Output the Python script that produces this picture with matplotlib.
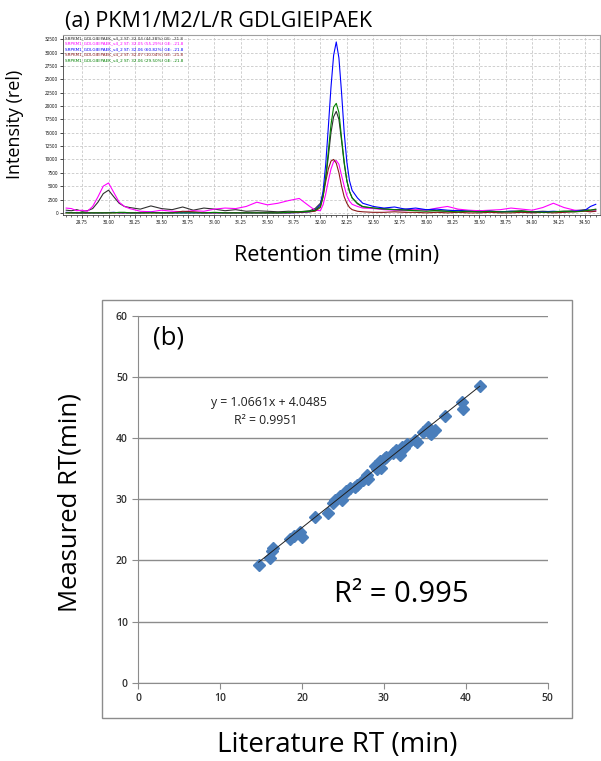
import numpy as np
import matplotlib
matplotlib.use('Agg')
from matplotlib import pyplot as plt
import matplotlib.patches as mpatches
from matplotlib.ticker import MultipleLocator, FormatStrFormatter

# ---- (a) extracted ion chromatograms, intensity vs retention time ----
rt = [29.60, 29.65, 29.70, 29.75, 29.80, 29.85, 29.90, 29.95, 30.00, 30.05,
      30.10, 30.15, 30.20, 30.30, 30.40, 30.50, 30.60, 30.70, 30.80, 30.90,
      31.00, 31.10, 31.20, 31.30, 31.40, 31.50, 31.60, 31.70, 31.80, 31.90,
      31.95, 32.00, 32.025, 32.05, 32.075, 32.10, 32.125, 32.15, 32.175, 32.20,
      32.225, 32.25, 32.275, 32.30, 32.35, 32.40, 32.50, 32.60, 32.70, 32.80,
      32.90, 33.00, 33.10, 33.20, 33.30, 33.40, 33.50, 33.60, 33.70, 33.80,
      33.90, 34.00, 34.10, 34.20, 34.30, 34.40, 34.50, 34.55, 34.60]

trace_black = [500, 400, 600, 300, 400, 800, 2000, 3600, 4250, 3000,
               1800, 1200, 1000, 700, 1300, 800, 600, 1100, 500, 900,
               700, 400, 600, 300, 400, 300, 200, 300, 200, 400,
               800, 1800, 3500, 6500, 10500, 15000, 18000, 19000, 17500, 13500,
               9200, 6000, 4000, 2800, 1700, 1100, 900, 800, 600, 700,
               500, 600, 400, 300, 500, 300, 400, 300, 200, 300,
               400, 200, 300, 200, 300, 400, 600, 500, 700]
trace_magenta = [900, 800, 400, 500, 300, 1200, 3000, 5000, 5600, 3800,
                 2000, 1200, 800, 300, 200, 500, 300, 200, 400, 300,
                 700, 900, 800, 1200, 2000, 1500, 1800, 2300, 2700, 1200,
                 500, 400, 1500, 3500, 6000, 8200, 9600, 9800, 9100, 7000,
                 5000, 3200, 2200, 1600, 1200, 900, 800, 600, 500, 400,
                 600, 500, 900, 1200, 700, 500, 400, 500, 600, 900,
                 700, 500, 1000, 1800, 1000, 500, 400, 300, 400]
trace_blue = [100, 50, 0, 0, 0, 0, 0, 0, 50, 100,
              0, 0, 0, 0, 100, 0, 0, 0, 0, 0,
              0, 0, 0, 0, 0, 0, 0, 0, 50, 200,
              500, 1500, 4000, 9000, 16000, 23500, 29500, 32000, 29000, 22500,
              15000, 9500, 6000, 4200, 2800, 1800, 1200, 900, 1100, 700,
              900, 600, 700, 500, 400, 300, 200, 300, 200, 300,
              200, 100, 200, 300, 200, 300, 500, 1200, 1600]
trace_brown = [0, 0, 0, 0, 0, 0, 0, 0, 0, 0,
               0, 0, 0, 0, 0, 0, 0, 300, 200, 0,
               0, 0, 0, 0, 0, 0, 0, 0, 100, 200,
               300, 1000, 3000, 5800, 8200, 9700, 10000, 9300, 7500, 5000,
               3000, 1800, 1000, 600, 300, 200, 100, 100, 200, 100,
               100, 0, 100, 0, 100, 0, 0, 100, 0, 0,
               100, 0, 100, 0, 100, 200, 300, 200, 300]
trace_green = [0, 0, 0, 0, 0, 0, 0, 0, 0, 0,
               100, 100, 0, 0, 0, 0, 0, 0, 0, 0,
               100, 0, 0, 0, 0, 0, 0, 100, 200, 300,
               500, 1200, 3000, 6500, 11500, 16500, 19800, 20500, 18800, 14000,
               9500, 6000, 4000, 2800, 1800, 1200, 900, 700, 600, 500,
               400, 300, 400, 300, 200, 300, 200, 300, 200, 200,
               300, 200, 100, 200, 300, 200, 400, 500, 600]

trace_names = ['SRPKM1_GDLGIEIPAEK_v4_2 ST: 32.04 (44.38%) GE: -21.8',
               'SRPKM1_GDLGIEIPAEK_v4_2 ST: 32.05 (55.29%) GE: -21.8',
               'SRPKM1_GDLGIEIPAEK_v4_2 ST: 32.06 (60.82%) GE: -21.8',
               'SRPKM1_GDLGIEIPAEK_v4_2 ST: 32.07 (10.04%) GE: -21.8',
               'SRPKM1_GDLGIEIPAEK_v4_2 ST: 32.06 (29.50%) GE: -21.8']
trace_colors = ['#303030', '#ff00ff', '#0000ff', '#8b1a1a', '#008000']
traces = [trace_black, trace_magenta, trace_blue, trace_brown, trace_green]

# ---- (b) measured vs literature retention time ----
lit_rt = [14.7, 16.1, 16.3, 16.5, 18.5, 19.0, 19.7, 20.0, 21.6, 23.2,
          23.8, 24.0, 24.6, 24.9, 25.2, 25.4, 25.8, 26.5, 26.7, 27.5,
          27.9, 28.1, 28.9, 29.2, 29.5, 29.7, 30.1, 30.3, 31.1, 31.5,
          32.0, 32.2, 32.4, 32.8, 33.8, 34.0, 34.8, 35.4, 35.6, 35.8,
          36.2, 37.4, 39.5, 39.6, 41.7]
meas_rt = [19.3, 20.4, 21.5, 22.0, 23.5, 24.0, 24.7, 23.9, 27.1, 27.8,
           29.4, 29.9, 30.6, 29.9, 31.0, 31.3, 31.8, 32.1, 32.4, 33.2,
           34.0, 33.3, 35.5, 35.0, 36.2, 35.1, 36.7, 37.0, 37.6, 38.0,
           37.3, 38.6, 38.4, 39.1, 39.7, 39.4, 41.1, 41.9, 40.8, 40.7,
           41.4, 43.6, 46.0, 44.8, 48.6]
fit_slope = 1.0661
fit_intercept = 4.0485

W, H = 601.0, 761.0
plt.rcParams['font.family'] = ['Open Sans', 'DejaVu Sans']
fig = plt.figure(figsize=(6.01, 7.61), dpi=100)

def box(l, t, r, b):
    return [l / W, 1 - b / H, (r - l) / W, (b - t) / H]

# top panel
ax1 = fig.add_axes(box(63, 35, 600, 215))
for y, c in zip(traces, trace_colors):
    ax1.plot(rt, y, color=c, linewidth=0.8)
ax1.set_xlim(29.57, 34.64)
ax1.set_ylim(-400, 33300)
ax1.xaxis.set_major_locator(MultipleLocator(0.25))
ax1.xaxis.set_minor_locator(MultipleLocator(0.05))
ax1.xaxis.set_major_formatter(FormatStrFormatter('%.2f'))
ax1.yaxis.set_major_locator(MultipleLocator(2500))
ax1.tick_params(labelsize=3.3, length=2, width=0.5, pad=1.5)
ax1.tick_params(which='minor', length=1.2, width=0.4)
ax1.grid(True, color='#c8c8c8', linestyle=(0, (3, 2)), linewidth=0.6)
for s in ['top', 'right']:
    ax1.spines[s].set_color('#a0a0a0')
for s in ['left', 'bottom']:
    ax1.spines[s].set_color('#404040')
    ax1.spines[s].set_linewidth(0.6)
for i, (nm, c) in enumerate(zip(trace_names, trace_colors)):
    ax1.text(0.003, 0.995 - i * 0.031, nm, transform=ax1.transAxes, color=c,
             fontsize=3.0, va='top', ha='left', family='DejaVu Sans')

fig.text(65 / W, 1 - 22 / H, '(a) PKM1/M2/L/R GDLGIEIPAEK', fontsize=15.5,
         ha='left', va='center')
fig.text(15 / W, 1 - 124 / H, 'Intensity (rel)', fontsize=13, rotation=90,
         ha='center', va='center')
fig.text(337 / W, 1 - 256 / H, 'Retention time (min)', fontsize=15.5,
         ha='center', va='center')

# bottom panel
fig.patches.append(mpatches.Rectangle((102 / W, 1 - 718 / H), 470 / W, 418 / H,
                                      transform=fig.transFigure, fill=False,
                                      edgecolor='#8c8c8c', linewidth=1.0))
ax2 = fig.add_axes(box(138.3, 316, 547.7, 682.7))
ax2.set_xlim(0, 50)
ax2.set_ylim(0, 60)
ax2.set_xticks(np.arange(0, 51, 10))
ax2.set_yticks(np.arange(0, 61, 10))
ax2.yaxis.grid(True, color='#8c8c8c', linewidth=1.0)
ax2.set_axisbelow(True)
for s in ['top', 'right']:
    ax2.spines[s].set_visible(False)
for s in ['left', 'bottom']:
    ax2.spines[s].set_color('#8c8c8c')
ax2.tick_params(labelsize=7.5, length=4, color='#8c8c8c', labelcolor='#303030')
for lb in ax2.get_xticklabels() + ax2.get_yticklabels():
    lb.set_fontweight('semibold')
xs = np.array([min(lit_rt), max(lit_rt)])
ax2.plot(xs, fit_slope * xs + fit_intercept, color='#202020', linewidth=0.7, zorder=3)
ax2.plot(lit_rt, meas_rt, linestyle='none', marker='D', markersize=6,
         color='#4a7ebb', zorder=2)
ax2.text(1.8, 56.4, '(b)', fontsize=18.5, ha='left', va='center')
ax2.text(0.318, 0.764, 'y = 1.0661x + 4.0485', transform=ax2.transAxes,
         fontsize=8.8, ha='center', va='center', color='#202020')
ax2.text(0.312, 0.716, 'R² = 0.9951', transform=ax2.transAxes,
         fontsize=8.8, ha='center', va='center', color='#202020')
ax2.text(0.642, 0.24, 'R² = 0.995', transform=ax2.transAxes,
         fontsize=21, ha='center', va='center')

fig.text(70 / W, 1 - 502 / H, 'Measured RT(min)', fontsize=18.5, rotation=90,
         ha='center', va='center')
fig.text(337 / W, 1 - 745 / H, 'Literature RT (min)', fontsize=20,
         ha='center', va='center')

fig.savefig('out.png', dpi=100)
